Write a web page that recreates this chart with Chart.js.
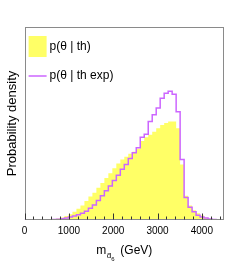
<!DOCTYPE html>
<html><head><meta charset="utf-8">
<script src="https://cdn.jsdelivr.net/npm/chart.js@4.4.1/dist/chart.umd.min.js"></script>
<style>html,body{margin:0;padding:0;background:#fff;}#wrap{width:249px;height:266px;}</style>
</head><body><div id="wrap"><canvas id="c" width="249" height="266"></canvas></div>
<script>
// bin lower edges (GeV), 90 GeV wide bins
const binLowEdges = [0,90,180,270,360,450,540,630,720,810,900,990,1080,1170,1260,1350,1440,1530,1620,1710,1800,1890,1980,2070,2160,2250,2340,2430,2520,2610,2700,2790,2880,2970,3060,3150,3240,3330,3420,3510,3600,3690,3780,3870,3960,4050,4140,4230,4320,4410];
const binUpperEdge = 4500;
// probability density (arbitrary units)
const thValues = [0,0,0,0,0,0,0.3,0.8,1.5,2.5,4,6,8.5,11.5,15,19.5,24,28,33,38,43,48,53,58,62,65,68,70,73,81,85,87.5,90.5,94,97.5,99.5,101,101,94,57,25,15,10,7,4.5,2.5,1.3,0.8,0.4,0.2];
const thExpValues = [0.2,0.2,0.2,0.2,0.2,0.2,0.3,0.4,0.7,1.2,2,3,4.2,5.5,7,9,12,15.5,20,25,30,35,40.5,46,52,57,63,69,74,85,88,101,108,115,125,130,132,129,111,62,23,13,8.5,5,3,2,1,0.6,0.3,0.2];
const seriesLabels = ['p(\u03b8 | th)', 'p(\u03b8 | th exp)'];
const xTickValues = [0,1000,2000,3000,4000];
const xMinorStep = 200;
const xTitleMain = 'm', xTitleSub = 'd\u0303', xTitleSubSub = '6', xTitleUnit = '(GeV)';
const yTitle = 'Probability density';

const FONT = '"Liberation Sans", Arial, Helvetica, sans-serif';
const YELLOW = '#ffff66', PINK = '#cc66ff';

function toPoints(vals){
  const pts = binLowEdges.map((x,i)=>({x:x, y:vals[i]}));
  pts.push({x:binUpperEdge, y:vals[vals.length-1]});
  return pts;
}

const decor = {
  id:'decor',
  afterDatasetsDraw(chart){
    const {ctx, chartArea:a, scales:{x}} = chart;
    ctx.save();
    const L = Math.round(a.left)+0.5, R = Math.round(a.right)-0.5, T = Math.round(a.top)+0.5, B = Math.round(a.bottom)-0.5;
    ctx.strokeStyle = '#8a8a8a'; ctx.lineWidth = 1;
    ctx.strokeRect(L, T, R-L, B-T);
    ctx.strokeStyle = '#333';
    ctx.beginPath();
    for (let v = x.min; v <= x.max; v += xMinorStep){
      const px = Math.round(x.getPixelForValue(v))+0.5;
      const major = xTickValues.indexOf(v) >= 0;
      ctx.moveTo(px, B); ctx.lineTo(px, B - (major ? 6 : 3));
    }
    ctx.stroke();
    ctx.restore();
  },
  afterDraw(chart){
    const {ctx, chartArea:a} = chart;
    ctx.save();
    ctx.fillStyle = YELLOW;
    ctx.fillRect(a.left+4, a.top+9, 18, 21);
    ctx.strokeStyle = PINK; ctx.lineWidth = 1.5;
    ctx.beginPath(); ctx.moveTo(a.left+4, a.top+49); ctx.lineTo(a.left+22, a.top+49); ctx.stroke();
    ctx.fillStyle = '#000';
    ctx.font = '12px ' + FONT;
    ctx.textBaseline = 'middle'; ctx.textAlign = 'left';
    ctx.fillText(seriesLabels[0], a.left+25, a.top+20);
    ctx.fillText(seriesLabels[1], a.left+25, a.top+49);
    ctx.textBaseline = 'alphabetic';
    const f1 = '12px ' + FONT, f2 = '8px ' + FONT, f3 = '6px ' + FONT;
    ctx.font = f1; const w1 = ctx.measureText(xTitleMain).width; const wU = ctx.measureText(' ' + xTitleUnit).width;
    ctx.font = f2; const w2 = ctx.measureText('d').width;
    ctx.font = f3; const w3 = ctx.measureText(xTitleSubSub).width;
    const total = w1 + w2 + w3 + 3 + wU;
    let xx = (a.left + a.right)/2 - total/2;
    const base = 253.5;
    ctx.font = f1; ctx.fillText(xTitleMain, xx, base); xx += w1 + 0.5;
    ctx.font = f2; ctx.fillText(xTitleSub, xx, base+4); xx += w2;
    ctx.font = f3; ctx.fillText(xTitleSubSub, xx, base+7); xx += w3 + 2.5;
    ctx.font = f1; ctx.fillText(' ' + xTitleUnit, xx, base);
    ctx.restore();
  }
};

new Chart(document.getElementById('c'), {
  type: 'line',
  data: {
    datasets: [
      { label: seriesLabels[1], data: toPoints(thExpValues), stepped: 'before', fill: false,
        borderColor: PINK, borderWidth: 1.5, pointRadius: 0, order: 1 },
      { label: seriesLabels[0], data: toPoints(thValues), stepped: 'before', fill: 'origin',
        backgroundColor: YELLOW, borderColor: YELLOW, borderWidth: 0, pointRadius: 0, order: 2 }
    ]
  },
  options: {
    responsive: false, animation: false, devicePixelRatio: 1,
    layout: { padding: { left: 2, right: 25, top: 27, bottom: 24 } },
    plugins: { legend: { display: false }, tooltip: { enabled: false } },
    scales: {
      x: { type: 'linear', min: 0, max: 4500,
        grid: { display: false, drawTicks: false }, border: { display: false },
        afterBuildTicks: s => { s.ticks = xTickValues.map(v => ({value: v})); },
        ticks: { font: { family: FONT, size: 10 }, color: '#000', padding: 5, maxRotation: 0, autoSkip: false,
          callback: v => String(v) } },
      y: { type: 'linear', min: 0, max: 198,
        grid: { display: false, drawTicks: false }, border: { display: false },
        ticks: { display: false },
        title: { display: true, text: yTitle, color: '#000', font: { family: FONT, size: 13 }, padding: { top: 3, bottom: 4 } } }
    }
  },
  plugins: [decor]
});
</script></body></html>
